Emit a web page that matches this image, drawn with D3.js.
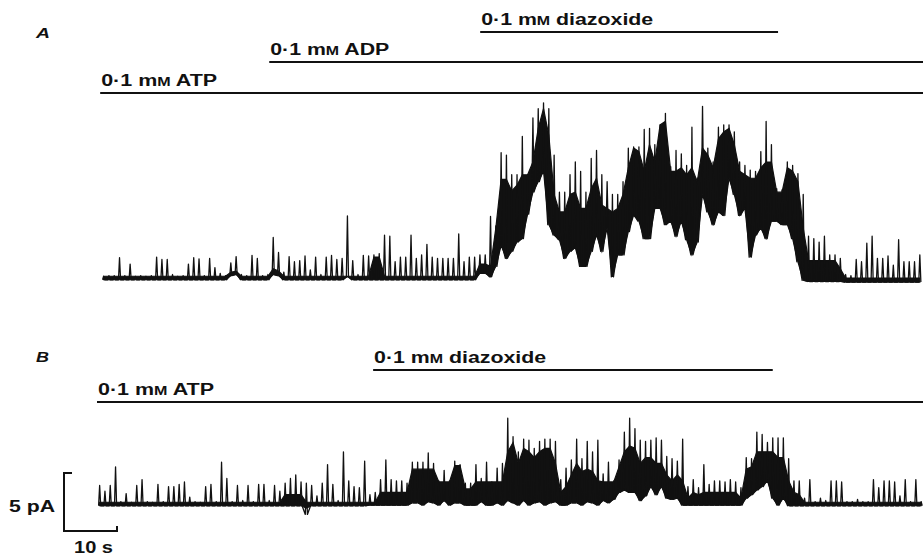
<!DOCTYPE html>
<html>
<head>
<meta charset="utf-8">
<script src="https://cdn.jsdelivr.net/npm/d3@7"></script>
<style>
  body { margin: 0; background: #fff; }
  svg text { font-family: 'Liberation Sans', Arial, Helvetica, sans-serif; fill: #111; font-weight: bold; }
</style>
</head>
<body>
<svg id="chart" width="923" height="555"></svg>
<script>
// single-channel current, pA above the closed level, read per 1 s of record:
// hi = tallest opening, lo = deepest closing, level = top of the dense band

// panel A
var hiA = [0.15,0.2,0.2,1.75,0.2,1.2,0.15,0.2,0.15,0.2,
  1.8,1.6,1.6,0.3,0.15,0.2,1.2,1.75,1.65,0.2,
  1.7,0.9,0.4,0.2,1.3,1.85,0.3,0.2,1.95,1.7,
  0.2,0.3,3.5,2.2,0.5,1.85,1.4,1.5,1.9,0.7,
  1.8,0.3,1.8,1.95,1.6,1.7,5.35,1.5,0.3,1.95,
  1.9,2.0,2.1,3.7,3.6,1.4,1.8,1.8,3.7,1.7,
  2.0,2.9,1.8,1.7,1.7,1.7,1.7,3.8,1.4,1.8,
  1.8,2.0,2.0,5.3,4.5,10.8,10.6,8.9,8.9,12.2,
  8.9,13.8,14.6,15.1,14.6,10.6,7.4,7.4,8.9,10.0,
  9.2,7.4,10.3,11.0,8.9,8.3,7.2,7.2,8.3,11.2,
  11.3,11.3,12.8,12.9,11.5,13.2,14.2,9.6,11.0,10.7,
  9.7,13.0,8.6,14.8,11.2,10.0,13.0,13.2,13.2,12.6,
  10.0,9.7,9.3,9.2,10.9,13.5,11.5,7.7,7.6,10.0,
  9.7,9.0,7.2,3.6,3.4,3.1,3.6,2.0,2.0,1.7,
  0.3,0.2,1.6,1.4,3.0,3.6,1.7,1.7,1.9,1.1,
  3.3,1.4,1.4,1.4,2.0];
var loA = [-0.15,-0.15,-0.15,-0.15,-0.15,-0.15,-0.15,-0.15,-0.15,-0.15,
  -0.15,-0.15,-0.15,-0.15,-0.15,-0.15,-0.15,-0.15,-0.15,-0.15,
  -0.15,-0.15,-0.15,-0.15,0.2,0.3,-0.15,-0.15,-0.15,-0.15,
  -0.15,-0.15,0.3,0.2,-0.15,-0.15,-0.15,-0.15,-0.15,-0.15,
  -0.15,-0.15,-0.15,-0.15,-0.15,-0.15,0.1,-0.15,-0.15,-0.15,
  -0.15,-0.15,-0.15,-0.15,-0.15,-0.15,-0.15,-0.15,-0.15,-0.15,
  -0.15,-0.15,-0.15,-0.15,-0.15,-0.15,-0.15,-0.15,-0.15,-0.15,
  -0.15,0.4,0.4,0.1,1.0,2.8,1.7,2.3,3.1,3.4,
  5.5,7.4,8.3,9.2,4.6,3.7,3.3,1.7,2.3,2.6,
  1.0,1.0,2.3,3.7,2.3,4.3,0.1,2.0,2.0,4.0,
  5.4,4.9,3.4,3.4,6.0,6.0,4.6,4.9,3.6,4.9,
  3.3,2.0,3.1,7.2,5.7,4.6,5.7,5.4,8.6,7.2,
  5.4,6.0,1.8,3.7,4.3,3.4,4.9,4.9,4.6,4.6,
  3.4,1.4,-0.2,-0.3,-0.3,-0.3,-0.3,-0.3,-0.3,-0.3,
  -0.35,-0.35,-0.35,-0.35,-0.35,-0.35,-0.35,-0.35,-0.35,-0.35,
  -0.35,-0.35,-0.35,-0.35,-0.35];
var levelA = [0.15,0.15,0.15,0.15,0.15,0.15,0.15,0.15,0.15,0.15,
  0.15,0.15,0.15,0.15,0.15,0.15,0.15,0.15,0.15,0.15,
  0.15,0.15,0.15,0.15,0.5,0.6,0.15,0.15,0.15,0.15,
  0.15,0.15,0.8,0.6,0.15,0.15,0.15,0.15,0.15,0.15,
  0.15,0.15,0.15,0.15,0.15,0.15,0.15,0.15,0.15,0.15,
  0.15,1.8,1.8,0.15,0.15,0.15,0.15,0.15,0.15,0.15,
  0.15,0.15,0.15,0.15,0.15,0.15,0.15,0.15,0.15,0.15,
  0.15,1.2,1.2,1.0,4.3,8.5,8.5,7.5,8.0,8.9,
  8.9,10.0,12.9,14.6,12.3,7.2,5.7,5.7,7.2,7.4,
  6.0,6.0,7.7,8.6,6.3,6.0,5.7,6.0,7.2,9.5,
  11.2,10.9,9.2,11.5,10.0,13.2,13.5,9.2,9.2,9.5,
  8.9,9.5,8.3,11.2,10.6,9.5,12.0,12.6,12.9,11.5,
  9.2,8.9,8.6,8.6,9.5,10.0,10.0,7.4,7.4,9.5,
  9.2,8.3,4.3,1.5,1.5,1.5,1.5,1.5,1.5,0.8,
  0,0,0,0,0,0,0,0,0,0,
  0,0,0,0,0];

// panel B
var hiB = [1.6,1.1,1.6,3.2,0.2,0.9,0.15,1.6,2.1,0.2,
  0.15,1.7,0.2,1.5,1.5,1.7,1.9,0.6,0.2,0.15,
  1.5,1.7,0.2,3.6,2.2,0.2,1.6,0.3,1.6,0.2,
  1.7,1.7,0.3,1.6,1.1,1.8,2.2,2.5,1.9,1.8,
  1.6,0.7,1.8,3.4,1.7,0.3,4.5,2.0,1.5,1.4,
  3.7,0.8,1.0,2.1,3.8,2.1,2.0,2.0,1.8,3.6,
  3.6,3.6,4.4,3.5,2.0,2.9,2.0,3.7,3.4,1.8,
  1.8,3.4,2.2,3.6,1.9,3.1,3.5,7.4,5.8,4.5,
  5.6,5.5,4.8,5.4,5.6,5.6,5.4,2.1,3.1,3.8,
  5.6,3.9,5.4,4.5,5.5,2.6,3.6,2.0,3.8,6.2,
  7.4,6.5,5.5,5.4,5.5,5.7,5.5,4.1,3.9,3.7,
  5.6,1.5,2.1,1.4,3.4,1.7,2.0,2.0,1.9,2.1,
  1.9,1.4,4.0,3.9,6.2,6.0,5.3,5.7,5.7,5.7,
  3.9,2.0,2.0,0.5,2.1,0.2,0.5,0.3,2.0,2.0,
  1.9,0.2,0.2,0.4,0.2,0.2,2.1,1.4,2.0,2.0,
  1.9,0.7,2.1,0.2,2.1,0.2];
var loB = [-0.15,-0.15,-0.15,-0.15,-0.15,-0.15,-0.15,-0.15,-0.15,-0.15,
  -0.15,-0.15,-0.15,-0.15,-0.15,-0.15,-0.15,-0.15,-0.15,-0.15,
  -0.15,-0.15,-0.15,-0.15,-0.15,-0.15,-0.15,-0.15,-0.15,-0.15,
  -0.15,-0.15,-0.15,-0.15,-0.15,-0.15,-0.15,-0.15,-0.15,-0.9,
  -0.15,-0.15,-0.15,-0.15,-0.15,-0.15,-0.15,-0.15,-0.15,-0.15,
  -0.15,-0.1,-0.1,-0.1,-0.1,-0.1,-0.1,-0.1,-0.1,0.1,
  0.1,-0.1,0.2,0.1,-0.1,0.3,-0.1,0.1,0.1,-0.1,
  -0.1,-0.1,0.2,-0.1,-0.1,0.1,-0.1,0.3,0.1,-0.1,
  0.3,-0.1,0.1,0.2,-0.1,0.1,0.2,-0.1,-0.1,0.1,
  0.1,-0.1,0.2,0.1,-0.1,0.3,0.1,0.4,1.0,1.2,
  1.0,1.0,0.3,0.7,1.5,0.8,1.5,0.5,0.4,0.5,
  -0.1,-0.1,-0.1,-0.1,-0.1,-0.1,-0.1,-0.1,-0.1,-0.1,
  -0.1,-0.1,0.5,0.8,1.2,1.5,2.0,0.5,-0.1,0.5,
  -0.15,-0.15,-0.15,-0.15,-0.15,-0.15,-0.15,-0.15,-0.15,-0.15,
  -0.15,-0.15,-0.15,-0.15,-0.15,-0.15,-0.15,-0.15,-0.15,-0.15,
  -0.15,-0.15,-0.15,-0.15,-0.15,-0.15];
var levelB = [0.15,0.15,0.15,0.15,0.15,0.15,0.15,0.15,0.15,0.15,
  0.15,0.15,0.15,0.15,0.15,0.15,0.15,0.15,0.15,0.15,
  0.15,0.15,0.15,0.15,0.15,0.15,0.15,0.15,0.15,0.15,
  0.15,0.15,0.15,0.15,0.15,0.8,0.8,0.8,0.8,0.15,
  0.15,0.15,0.15,0.15,0.15,0.15,0.15,0.15,0.15,0.15,
  0.15,0.15,0.15,1.0,1.0,1.0,1.0,1.0,1.0,3.0,
  3.0,3.0,3.0,3.0,1.9,1.9,1.9,3.3,3.3,1.3,
  1.3,1.9,1.9,1.9,1.9,1.9,1.9,4.5,5.3,3.5,
  4.8,4.5,4.0,4.5,4.8,4.8,3.5,1.0,1.5,2.5,
  3.5,2.8,3.0,2.8,2.0,1.9,1.9,1.9,3.2,4.5,
  5.0,4.8,3.5,4.0,4.0,3.5,3.5,2.5,2.0,2.5,
  2.0,0.5,1.0,0.8,1.0,1.0,1.0,1.0,1.0,1.0,
  1.0,0.5,3.0,3.2,4.5,4.5,4.5,4.5,4.0,4.0,
  2.0,1.0,0.8,0.15,0.15,0.15,0.15,0.15,0.15,0.15,
  0.15,0.15,0.15,0.15,0.15,0.15,0.15,0.15,0.15,0.15,
  0.15,0.15,0.15,0.15,0.15,0.15];

// solution bars (time in s)
var barsA = [
  {label: "0·1 mM diazoxide", start: 72.3, end: 128.5},
  {label: "0·1 mM ADP", start: 32.5, end: 170},
  {label: "0·1 mM ATP", start: 0.6, end: 170}
];
var barsB = [
  {label: "0·1 mM diazoxide", start: 52.1, end: 127.5},
  {label: "0·1 mM ATP", start: 0, end: 170}
];
var scaleBarPA = 5, scaleBarS = 10;

var svg = d3.select("#chart");

// 10 s = 53 px, 5 pA = 58 px
var x = d3.scaleLinear().domain([0, 156]).range([97, 923.8]);
var yA = d3.scaleLinear().domain([0, 5]).range([278, 220]);
var yB = d3.scaleLinear().domain([0, 5]).range([504, 446]);

var labelWidth = {"0·1 mM diazoxide": 172, "0·1 mM ADP": 119, "0·1 mM ATP": 116};

function drawBars(bars, lineYs) {
  bars.forEach(function(b, i) {
    var ly = lineYs[i];
    svg.append("line")
      .attr("x1", x(b.start)).attr("x2", Math.min(x(b.end), 923))
      .attr("y1", ly).attr("y2", ly)
      .attr("stroke", "#111").attr("stroke-width", 2);
    var parts = b.label.split("mM");
    var t = svg.append("text")
      .attr("x", x(b.start) + 1)
      .attr("y", ly - 7)
      .attr("font-size", 16)
      .attr("textLength", labelWidth[b.label])
      .attr("lengthAdjust", "spacingAndGlyphs");
    t.append("tspan").text(parts[0] + "m");
    t.append("tspan").attr("font-size", 12).text("M");
    t.append("tspan").text(parts[1]);
  });
}

function trace(hi, lo, level, t0, y) {
  var g = svg.append("g");

  // dense band between the deepest closing and the band top
  // (downward artefacts below the closed level are left to the thin line)
  var band = hi.map(function(h, i) {
    var bot = Math.max(lo[i], -0.35);
    return {t: t0 + i + 0.5, bot: bot, top: Math.min(h, Math.max(bot, level[i]))};
  });
  g.append("path")
    .attr("d", d3.area()
      .x(function(d) { return x(d.t); })
      .y0(function(d) { return y(d.bot); })
      .y1(function(d) { return y(d.top); })(band))
    .attr("fill", "#111")
    .attr("stroke", "#111")
    .attr("stroke-width", 1.2);

  // brief openings: up to hi and back to lo inside each bin
  var pts = [];
  hi.forEach(function(h, i) {
    pts.push([t0 + i + 0.3, lo[i]]);
    pts.push([t0 + i + 0.5, h]);
    pts.push([t0 + i + 0.7, lo[i]]);
  });
  g.append("path")
    .attr("d", d3.line()
      .x(function(d) { return x(d[0]); })
      .y(function(d) { return y(d[1]); })(pts))
    .attr("fill", "none")
    .attr("stroke", "#111")
    .attr("stroke-width", 1.3)
    .attr("stroke-linejoin", "round");
}

drawBars(barsA, [32, 62, 93]);
drawBars(barsB, [370, 402]);

trace(hiA, loA, levelA, 0.75, yA);
trace(hiB, loB, levelB, 0, yB);

// panel letters
svg.append("text").attr("x", 36).attr("y", 38).attr("font-size", 14)
  .attr("textLength", 14).attr("lengthAdjust", "spacingAndGlyphs")
  .attr("font-style", "italic").text("A");
svg.append("text").attr("x", 36).attr("y", 362).attr("font-size", 14)
  .attr("textLength", 13).attr("lengthAdjust", "spacingAndGlyphs")
  .attr("font-style", "italic").text("B");

// calibration bar
var bx = 64, bBottom = 531;
var barW = x(scaleBarS) - x(0);
var barH = yB(0) - yB(scaleBarPA);
svg.append("path")
  .attr("d", "M" + (bx + 8) + "," + (bBottom - barH) + "H" + bx + "V" + bBottom +
    "H" + (bx + barW) + "V" + (bBottom - 5))
  .attr("fill", "none").attr("stroke", "#111").attr("stroke-width", 2);
svg.append("text").attr("x", 9).attr("y", 512).attr("font-size", 16)
  .attr("textLength", 46).attr("lengthAdjust", "spacingAndGlyphs")
  .text(scaleBarPA + " pA");
svg.append("text").attr("x", 74).attr("y", 553).attr("font-size", 16)
  .attr("textLength", 39).attr("lengthAdjust", "spacingAndGlyphs")
  .text(scaleBarS + " s");
</script>
</body>
</html>
